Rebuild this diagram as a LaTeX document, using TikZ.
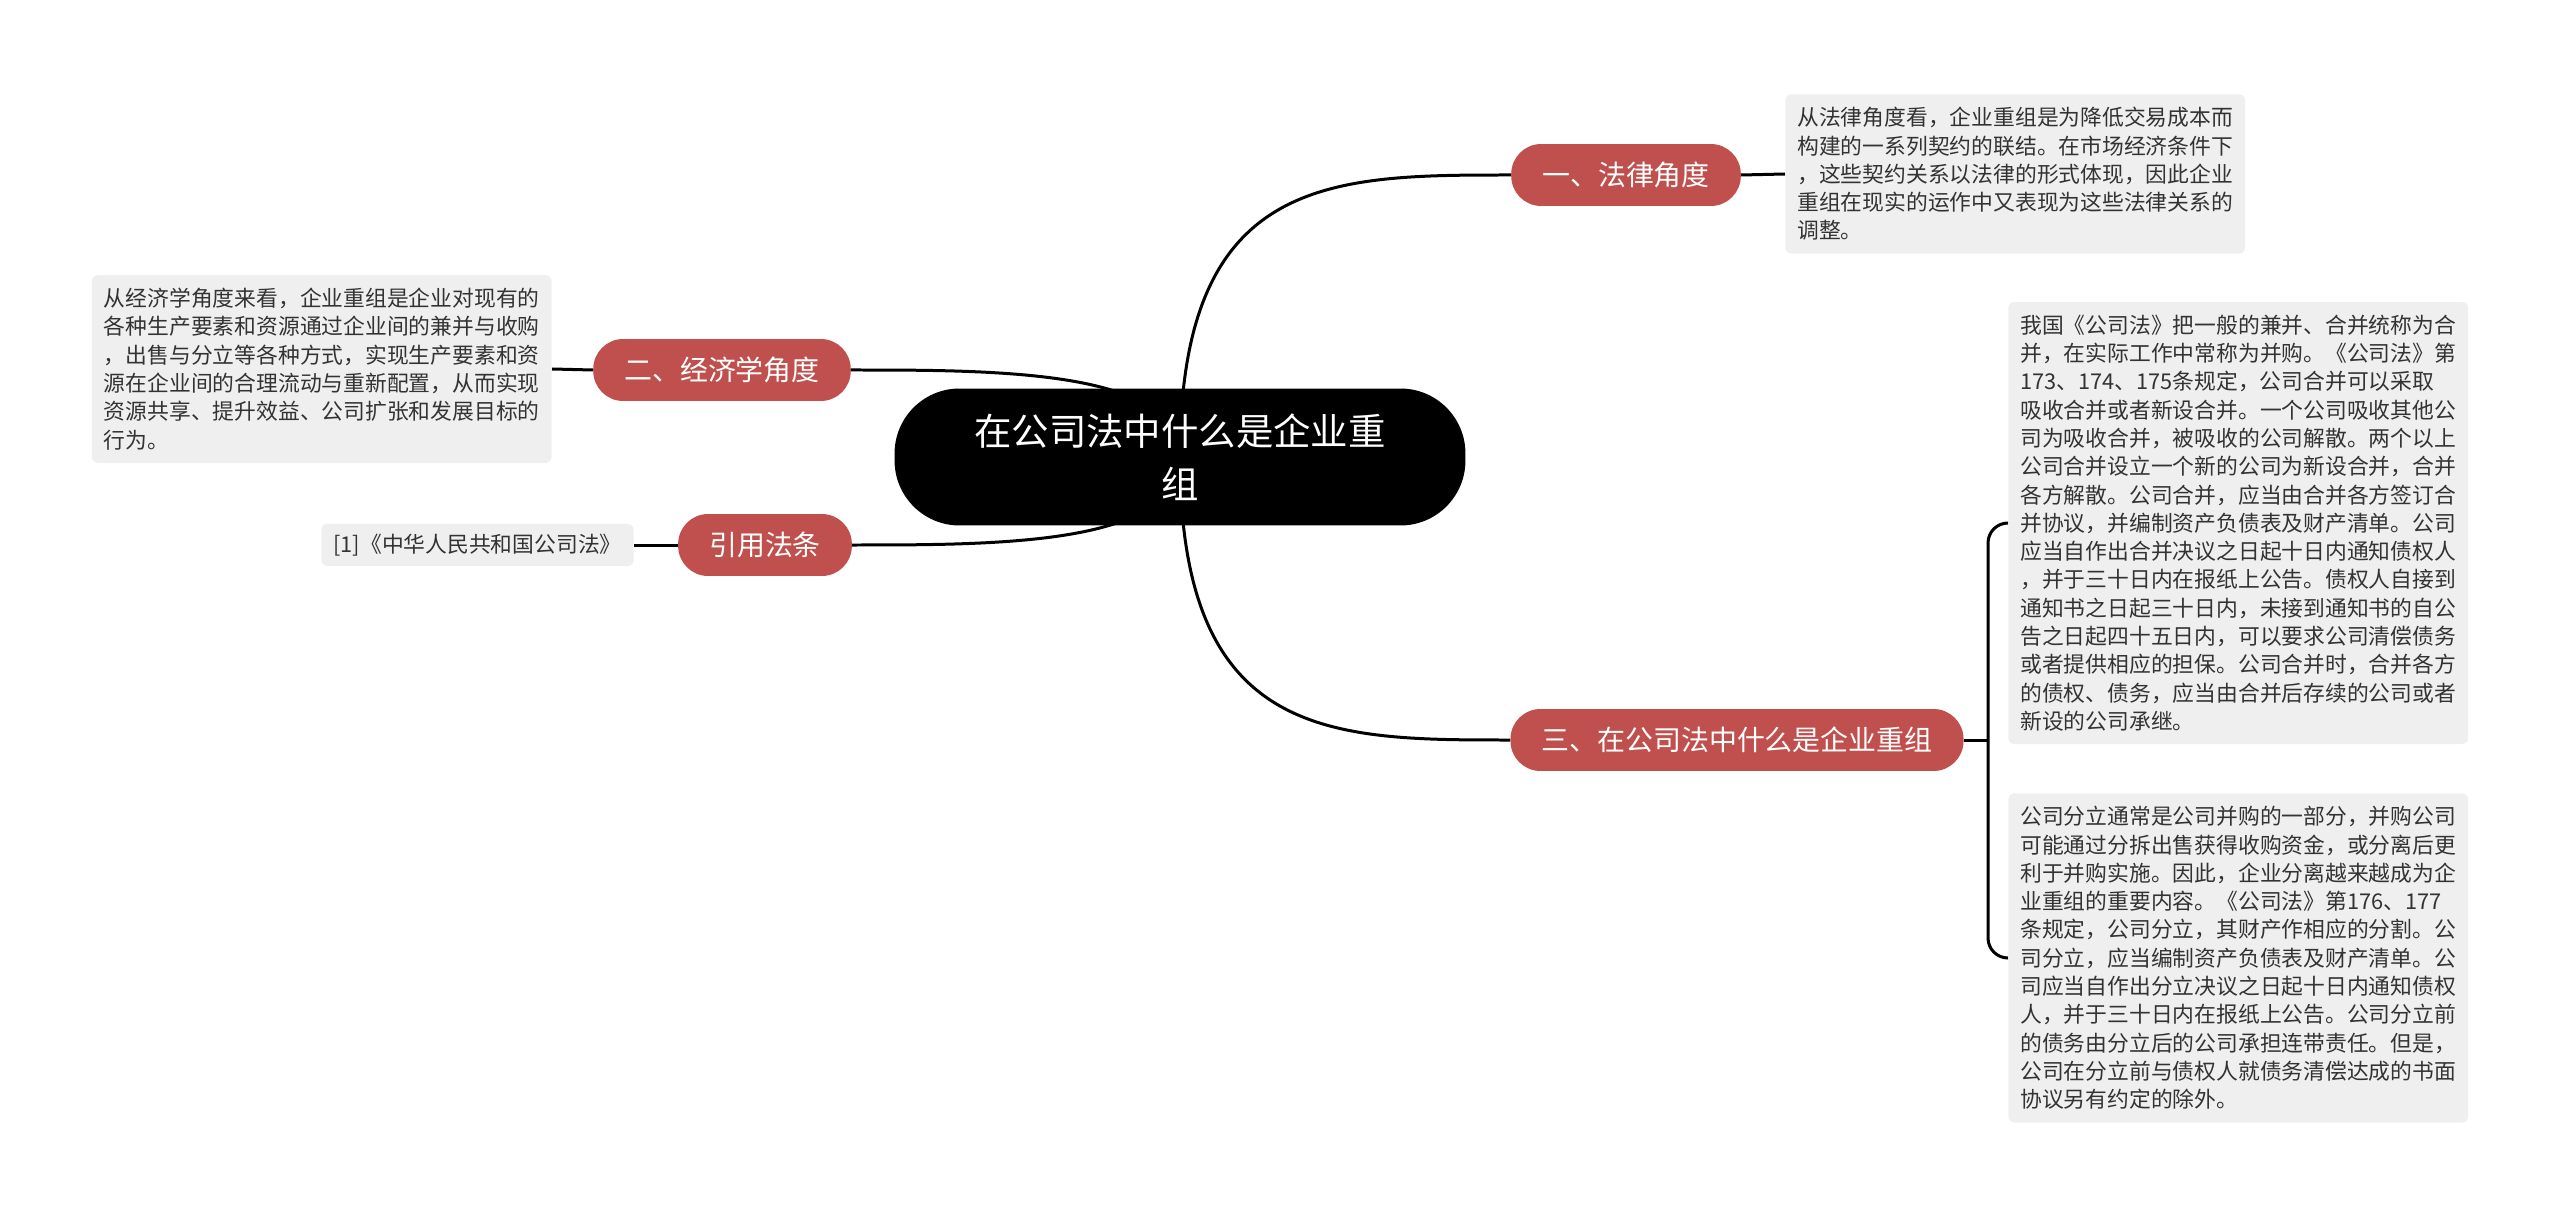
\documentclass[tikz,border=0pt]{standalone}
\usepackage{fontspec}
\newfontfamily\cjk{Noto Sans CJK SC}
\usepackage{tikz}
\usetikzlibrary{positioning,backgrounds}
\definecolor{brred}{RGB}{192,80,77}
\definecolor{leafgray}{RGB}{239,239,239}
\definecolor{leaftext}{RGB}{51,51,51}
\tikzset{
 root/.style={fill=black,text=white,align=center,minimum width=11.42cm,minimum height=2.74cm,
   rounded corners=1.3cm,font={\cjk\fontsize{21.3}{30}\selectfont}},
 branch/.style={fill=brred,text=white,minimum height=1.24cm,inner xsep=0.62cm,inner ysep=0pt,
   rounded corners=0.6cm,font={\cjk\fontsize{15.9}{19}\selectfont}},
 leaf/.style={fill=leafgray,text=leaftext,align=left,inner xsep=0.24cm,inner ysep=0.26cm,
   rounded corners=0.12cm,font={\cjk\fontsize{12.4}{16.1}\selectfont}},
 link/.style={line width=0.06cm,black}
}
\begin{document}
\begin{tikzpicture}[x=0.02cm,y=-0.02cm]
\useasboundingbox (0,0) rectangle (2560,1216);
\node[root](root) at (1180,457){在公司法中什么是企业重\\组};
\node[branch](law) at (1626,175){一、法律角度};
\node[branch](econ) at (722,370){二、经济学角度};
\node[branch](cite) at (765,545){引用法条};
\node[branch](reorg) at (1737,740){三、在公司法中什么是企业重组};
\node[leaf,anchor=west](lawtxt) at (1785,174){从法律角度看，企业重组是为降低交易成本而\\构建的一系列契约的联结。在市场经济条件下\\，这些契约关系以法律的形式体现，因此企业\\重组在现实的运作中又表现为这些法律关系的\\调整。};
\node[leaf,anchor=east](econtxt) at (552,369){从经济学角度来看，企业重组是企业对现有的\\各种生产要素和资源通过企业间的兼并与收购\\，出售与分立等各种方式，实现生产要素和资\\源在企业间的合理流动与重新配置，从而实现\\资源共享、提升效益、公司扩张和发展目标的\\行为。};
\node[leaf,anchor=east,inner ysep=0.2cm](citetxt) at (634,545){[1]《中华人民共和国公司法》};
\node[leaf,anchor=west](mergetxt) at (2008,523){我国《公司法》把一般的兼并、合并统称为合\\并，在实际工作中常称为并购。《公司法》第\\173、174、175条规定，公司合并可以采取\\吸收合并或者新设合并。一个公司吸收其他公\\司为吸收合并，被吸收的公司解散。两个以上\\公司合并设立一个新的公司为新设合并，合并\\各方解散。公司合并，应当由合并各方签订合\\并协议，并编制资产负债表及财产清单。公司\\应当自作出合并决议之日起十日内通知债权人\\，并于三十日内在报纸上公告。债权人自接到\\通知书之日起三十日内，未接到通知书的自公\\告之日起四十五日内，可以要求公司清偿债务\\或者提供相应的担保。公司合并时，合并各方\\的债权、债务，应当由合并后存续的公司或者\\新设的公司承继。};
\node[leaf,anchor=west](splittxt) at (2008,958){公司分立通常是公司并购的一部分，并购公司\\可能通过分拆出售获得收购资金，或分离后更\\利于并购实施。因此，企业分离越来越成为企\\业重组的重要内容。《公司法》第176、177\\条规定，公司分立，其财产作相应的分割。公\\司分立，应当编制资产负债表及财产清单。公\\司应当自作出分立决议之日起十日内通知债权\\人，并于三十日内在报纸上公告。公司分立前\\的债务由分立后的公司承担连带责任。但是，\\公司在分立前与债权人就债务清偿达成的书面\\协议另有约定的除外。};
\coordinate (fork) at (1988,740);
\begin{pgfonlayer}{background}
% curves from the root
\draw[link](root.center) .. controls (1180,175) and (1330,175) .. (law.west);
\draw[link](root.center) .. controls (1180,740) and (1330,740) .. (reorg.west);
\draw[link](root.center) .. controls (1180,370) and (1000,370) .. (econ.east);
\draw[link](root.center) .. controls (1180,545) and (1000,545) .. (cite.east);
% leaves
\draw[link](law.east)--(lawtxt.west);
\draw[link](econ.west)--(econtxt.east);
\draw[link](cite.west)--(citetxt.east);
\draw[link](reorg.east)--(fork);
\draw[link,rounded corners=0.4cm](fork)|-(mergetxt.west);
\draw[link,rounded corners=0.4cm](fork)|-(splittxt.west);
\end{pgfonlayer}
\end{tikzpicture}
\end{document}
